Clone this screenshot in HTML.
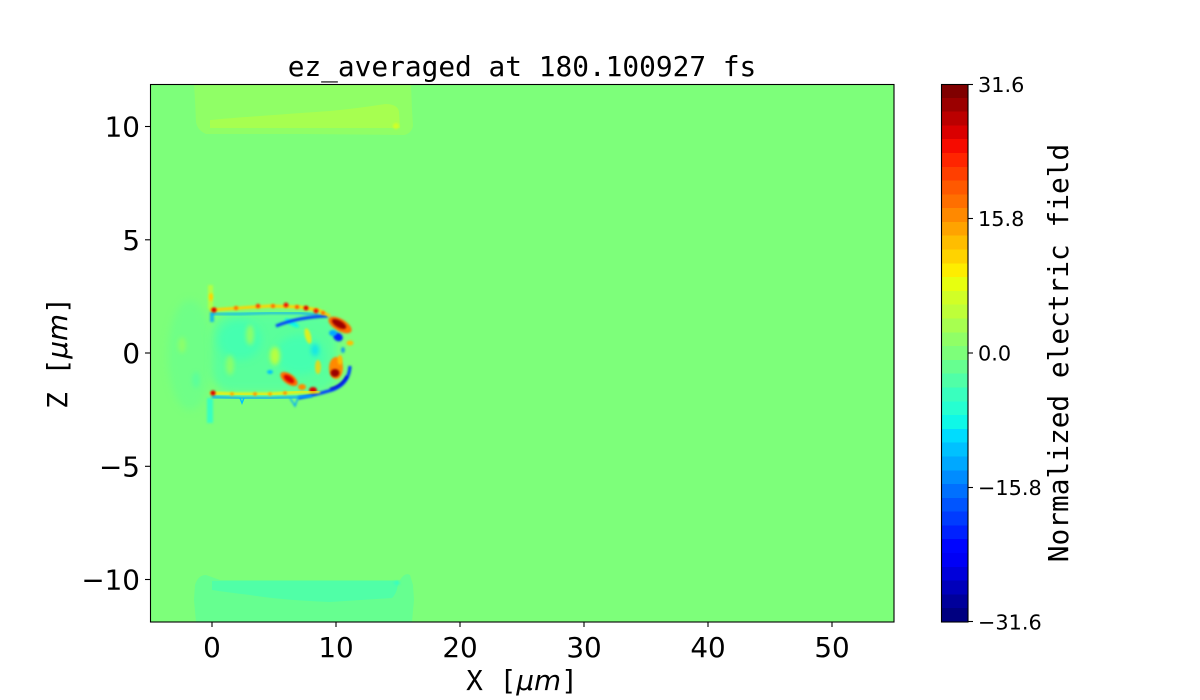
<!DOCTYPE html>
<html><head><meta charset="utf-8">
<style>
html,body{margin:0;padding:0;background:#fff;}
svg{display:block;}
.tk{font-family:"DejaVu Sans","Liberation Sans",sans-serif;font-size:27.8px;fill:#000;}
.ctk{font-family:"DejaVu Sans","Liberation Sans",sans-serif;font-size:20.8px;fill:#000;}
.mono{font-family:"DejaVu Sans Mono","Liberation Mono",monospace;font-size:27.8px;fill:#000;}
.it{font-family:"DejaVu Sans","Liberation Sans",sans-serif;font-style:italic;}
</style></head>
<body>
<svg width="1200" height="700" viewBox="0 0 1200 700" xmlns="http://www.w3.org/2000/svg">
<defs>
  <clipPath id="ax"><rect x="150" y="84" width="744" height="538"/></clipPath>
  <filter id="b1" x="-50%" y="-50%" width="200%" height="200%"><feGaussianBlur stdDeviation="1"/></filter>
  <filter id="b2" x="-50%" y="-50%" width="200%" height="200%"><feGaussianBlur stdDeviation="2"/></filter>
  <filter id="b4" x="-50%" y="-50%" width="200%" height="200%"><feGaussianBlur stdDeviation="4"/></filter>
</defs>

<!-- title -->
<text class="mono" x="522" y="76" text-anchor="middle">ez_averaged at 180.100927 fs</text>

<!-- main field -->
<g clip-path="url(#ax)">
  <rect x="150" y="84" width="744" height="538" fill="rgb(125,255,122)"/>
  <!-- top band -->
  <path d="M194,84 L411,84 L412,110 L413,126 Q411,134 404,135 L300,134 L206,134 Q197,130 196,122 L195,100 Z" fill="rgb(144,255,102)"/>
  <path d="M210,128 L210,120 Q230,118 260,116 Q300,113 330,111 Q360,108 385,104 Q398,104 399,112 L400,128 Z" fill="rgb(167,255,80)"/>
  <ellipse cx="396" cy="126" rx="3" ry="3" fill="rgb(209,255,38)" filter="url(#b1)"/>
  <!-- bottom band -->
  <path d="M196,622 L194,600 L195,585 Q198,575 206,575 L220,580 L400,580 Q405,572 410,575 L413,585 L414,600 L412,622 Z" fill="rgb(102,255,144)"/>
  <path d="M212,581 L398,581 Q398,592 392,598 L330,602 Q280,600 250,595 Q225,592 212,590 Z" fill="rgb(80,255,167)"/>
  <ellipse cx="397" cy="583" rx="3" ry="2" fill="rgb(57,255,190)" filter="url(#b1)"/>

  <!-- central structure -->
  <g>
    <!-- faint left haze -->
    <ellipse cx="190" cy="355" rx="22" ry="55" fill="rgb(102,255,144)" opacity="0.6" filter="url(#b4)"/>
    <ellipse cx="182" cy="345" rx="4" ry="8" fill="rgb(167,255,80)" opacity="0.5" filter="url(#b2)"/>
    <ellipse cx="196" cy="380" rx="4" ry="8" fill="rgb(80,255,167)" opacity="0.6" filter="url(#b2)"/>
    <!-- interior -->
    <rect x="212" y="314" width="125" height="78" rx="20" fill="rgb(80,255,167)" opacity="0.75" filter="url(#b4)"/>
    <ellipse cx="240" cy="340" rx="22" ry="20" fill="rgb(57,255,190)" opacity="0.6" filter="url(#b4)"/>
    <ellipse cx="300" cy="355" rx="25" ry="20" fill="rgb(57,255,190)" opacity="0.6" filter="url(#b4)"/>
    <ellipse cx="275" cy="356" rx="5" ry="9" fill="rgb(209,255,38)" opacity="0.8" filter="url(#b2)"/>
    <ellipse cx="250" cy="335" rx="4" ry="10" fill="rgb(190,255,57)" opacity="0.6" filter="url(#b2)"/>
    <ellipse cx="230" cy="365" rx="4" ry="10" fill="rgb(190,255,57)" opacity="0.5" filter="url(#b2)"/>
    <ellipse cx="308" cy="336" rx="3" ry="8" fill="rgb(255,237,0)" opacity="0.8" filter="url(#b1)" transform="rotate(-15 308 336)"/>
    <ellipse cx="292" cy="323" rx="8" ry="2.5" fill="rgb(15,248,231)" filter="url(#b1)" transform="rotate(30 292 323)"/>
    <ellipse cx="270" cy="372" rx="3" ry="2" fill="rgb(0,193,255)" filter="url(#b1)"/>
    <ellipse cx="318" cy="367" rx="3" ry="7" fill="rgb(255,211,0)" opacity="0.8" filter="url(#b1)"/>
    <ellipse cx="315" cy="350" rx="4" ry="6" fill="rgb(0,220,254)" opacity="0.7" filter="url(#b2)"/>
    <!-- left vertical -->
    <rect x="208" y="285" width="5" height="24" fill="rgb(190,255,57)" opacity="0.8" filter="url(#b1)"/>
    <ellipse cx="211" cy="297" rx="2" ry="4" fill="rgb(255,211,0)" filter="url(#b1)"/>
    <rect x="207" y="398" width="6" height="25" fill="rgb(38,255,209)" opacity="0.8" filter="url(#b1)"/>
    <rect x="210" y="312" width="4" height="10" fill="rgb(0,168,255)" opacity="0.8" filter="url(#b1)"/>
    <!-- top line -->
    <polyline points="212,314 240,314 270,313 300,313 318,315" fill="none" stroke="rgb(0,168,255)" stroke-width="2.2" opacity="0.8" filter="url(#b1)"/>
    <path d="M276,326 Q298,317 328,316" fill="none" stroke="rgb(0,60,255)" stroke-width="3" filter="url(#b1)"/>
    <polyline points="210,310 240,308 270,306 300,307 318,310 330,316" fill="none" stroke="rgb(255,211,0)" stroke-width="3" filter="url(#b1)"/>
    <circle cx="214" cy="310" r="2.6" fill="rgb(218,0,0)" filter="url(#b1)"/>
    <circle cx="236" cy="308" r="2" fill="rgb(255,111,0)" filter="url(#b1)"/>
    <circle cx="258" cy="306" r="2.2" fill="rgb(255,63,0)" filter="url(#b1)"/>
    <circle cx="273" cy="306" r="2" fill="rgb(255,111,0)" filter="url(#b1)"/>
    <circle cx="286" cy="305" r="2.4" fill="rgb(246,11,0)" filter="url(#b1)"/>
    <circle cx="297" cy="307" r="2" fill="rgb(255,89,0)" filter="url(#b1)"/>
    <circle cx="306" cy="308" r="2.4" fill="rgb(218,0,0)" filter="url(#b1)"/>
    <circle cx="316" cy="311" r="2.4" fill="rgb(246,11,0)" filter="url(#b1)"/>
    <circle cx="323" cy="313" r="2" fill="rgb(255,111,0)" filter="url(#b1)"/>
    <!-- top right red blob -->
    <ellipse cx="340" cy="325" rx="13" ry="6" fill="rgb(255,111,0)" filter="url(#b1)" transform="rotate(30 340 325)"/>
    <ellipse cx="339" cy="324" rx="8" ry="3.5" fill="rgb(155,0,0)" filter="url(#b1)" transform="rotate(30 339 324)"/>
    <ellipse cx="338" cy="337" rx="5" ry="4" fill="rgb(0,33,255)" filter="url(#b1)" transform="rotate(30 338 337)"/>
    <ellipse cx="333" cy="333" rx="4" ry="3" fill="rgb(0,168,255)" filter="url(#b1)"/>
    <ellipse cx="350" cy="343" rx="3.5" ry="2.5" fill="rgb(255,189,0)" filter="url(#b1)"/>
    <ellipse cx="343" cy="350" rx="2" ry="3" fill="rgb(0,140,255)" opacity="0.8" filter="url(#b1)"/>
    <!-- right lower red blob -->
    <ellipse cx="336" cy="368" rx="7" ry="11" fill="rgb(255,137,0)" filter="url(#b1)"/>
    <ellipse cx="340" cy="360" rx="2.5" ry="5" fill="rgb(255,189,0)" filter="url(#b1)"/>
    <ellipse cx="335" cy="373" rx="4.5" ry="4" fill="rgb(155,0,0)" filter="url(#b1)"/>
    <path d="M350,366 Q349,384 332,390 Q315,395 298,398" fill="none" stroke="rgb(0,60,255)" stroke-width="3.2" filter="url(#b1)"/>
    <path d="M347,376 Q342,386 330,389" fill="none" stroke="rgb(0,0,218)" stroke-width="2" filter="url(#b1)"/>
    <!-- mid red blobs -->
    <ellipse cx="289" cy="379" rx="10" ry="5" fill="rgb(255,111,0)" filter="url(#b1)" transform="rotate(35 289 379)"/>
    <ellipse cx="289" cy="379" rx="6" ry="3" fill="rgb(218,0,0)" filter="url(#b1)" transform="rotate(35 289 379)"/>
    <ellipse cx="302" cy="387" rx="4" ry="3" fill="rgb(255,137,0)" filter="url(#b1)"/>
    <ellipse cx="313" cy="390" rx="4" ry="3" fill="rgb(218,0,0)" filter="url(#b1)"/>
    <!-- bottom line -->
    <polyline points="212,397 240,398 270,398 300,397 312,396" fill="none" stroke="rgb(0,168,255)" stroke-width="2.2" filter="url(#b1)"/>
    <polyline points="240,398 242,403 244,398 M254,398 256,404 258,398" fill="none" stroke="rgb(0,193,255)" stroke-width="1.5"/>
    <path d="M290,398 L295,406 L298,398" fill="none" stroke="rgb(0,168,255)" stroke-width="1.5" filter="url(#b1)"/>
    <polyline points="210,393 240,394 270,394 300,392 320,392" fill="none" stroke="rgb(255,237,0)" stroke-width="2.6" filter="url(#b1)"/>
    <circle cx="213" cy="393" r="2.6" fill="rgb(218,0,0)" filter="url(#b1)"/>
    <circle cx="232" cy="394" r="1.8" fill="rgb(255,163,0)" filter="url(#b1)"/>
    <circle cx="255" cy="394" r="1.8" fill="rgb(255,137,0)" filter="url(#b1)"/>
    <circle cx="270" cy="394" r="1.8" fill="rgb(255,163,0)" filter="url(#b1)"/>
    <circle cx="285" cy="393" r="1.8" fill="rgb(255,137,0)" filter="url(#b1)"/>
  </g>
</g>
<rect x="150.5" y="84.5" width="743.5" height="537.5" fill="none" stroke="#000" stroke-width="1.1"/>

<!-- y ticks -->
<g stroke="#000" stroke-width="1.1">
  <line x1="145" y1="126.5" x2="150" y2="126.5"/>
  <line x1="145" y1="239.8" x2="150" y2="239.8"/>
  <line x1="145" y1="353" x2="150" y2="353"/>
  <line x1="145" y1="466.3" x2="150" y2="466.3"/>
  <line x1="145" y1="579.5" x2="150" y2="579.5"/>
  <line x1="212" y1="622" x2="212" y2="627"/>
  <line x1="336" y1="622" x2="336" y2="627"/>
  <line x1="460" y1="622" x2="460" y2="627"/>
  <line x1="584" y1="622" x2="584" y2="627"/>
  <line x1="708" y1="622" x2="708" y2="627"/>
  <line x1="832" y1="622" x2="832" y2="627"/>
</g>
<g class="tk" text-anchor="end">
  <text x="140" y="136.6">10</text>
  <text x="140" y="249.9">5</text>
  <text x="140" y="363.1">0</text>
  <text x="140" y="476.4">−5</text>
  <text x="140" y="589.6">−10</text>
</g>
<g class="tk" text-anchor="middle">
  <text x="212" y="657">0</text>
  <text x="336" y="657">10</text>
  <text x="460" y="657">20</text>
  <text x="584" y="657">30</text>
  <text x="708" y="657">40</text>
  <text x="832" y="657">50</text>
</g>
<text class="mono" x="522" y="690" text-anchor="middle">X [<tspan class="it">μm</tspan>]</text>
<text class="mono" transform="translate(67,353) rotate(-90)" text-anchor="middle">Z [<tspan class="it">μm</tspan>]</text>

<!-- colorbar -->
<g shape-rendering="crispEdges">
<rect x="941" y="84.00" width="27" height="14.3" fill="rgb(128,0,0)"/>
<rect x="941" y="97.79" width="27" height="14.3" fill="rgb(155,0,0)"/>
<rect x="941" y="111.59" width="27" height="14.3" fill="rgb(187,0,0)"/>
<rect x="941" y="125.38" width="27" height="14.3" fill="rgb(218,0,0)"/>
<rect x="941" y="139.18" width="27" height="14.3" fill="rgb(246,11,0)"/>
<rect x="941" y="152.97" width="27" height="14.3" fill="rgb(255,37,0)"/>
<rect x="941" y="166.77" width="27" height="14.3" fill="rgb(255,63,0)"/>
<rect x="941" y="180.56" width="27" height="14.3" fill="rgb(255,89,0)"/>
<rect x="941" y="194.36" width="27" height="14.3" fill="rgb(255,111,0)"/>
<rect x="941" y="208.15" width="27" height="14.3" fill="rgb(255,137,0)"/>
<rect x="941" y="221.95" width="27" height="14.3" fill="rgb(255,163,0)"/>
<rect x="941" y="235.74" width="27" height="14.3" fill="rgb(255,189,0)"/>
<rect x="941" y="249.54" width="27" height="14.3" fill="rgb(255,211,0)"/>
<rect x="941" y="263.33" width="27" height="14.3" fill="rgb(254,237,0)"/>
<rect x="941" y="277.13" width="27" height="14.3" fill="rgb(231,255,15)"/>
<rect x="941" y="290.92" width="27" height="14.3" fill="rgb(209,255,38)"/>
<rect x="941" y="304.72" width="27" height="14.3" fill="rgb(190,255,57)"/>
<rect x="941" y="318.51" width="27" height="14.3" fill="rgb(167,255,80)"/>
<rect x="941" y="332.31" width="27" height="14.3" fill="rgb(144,255,102)"/>
<rect x="941" y="346.10" width="27" height="14.3" fill="rgb(125,255,122)"/>
<rect x="941" y="359.90" width="27" height="14.3" fill="rgb(102,255,144)"/>
<rect x="941" y="373.69" width="27" height="14.3" fill="rgb(80,255,167)"/>
<rect x="941" y="387.49" width="27" height="14.3" fill="rgb(57,255,190)"/>
<rect x="941" y="401.28" width="27" height="14.3" fill="rgb(38,255,209)"/>
<rect x="941" y="415.08" width="27" height="14.3" fill="rgb(15,248,231)"/>
<rect x="941" y="428.87" width="27" height="14.3" fill="rgb(0,220,254)"/>
<rect x="941" y="442.67" width="27" height="14.3" fill="rgb(0,193,255)"/>
<rect x="941" y="456.46" width="27" height="14.3" fill="rgb(0,168,255)"/>
<rect x="941" y="470.26" width="27" height="14.3" fill="rgb(0,140,255)"/>
<rect x="941" y="484.05" width="27" height="14.3" fill="rgb(0,112,255)"/>
<rect x="941" y="497.85" width="27" height="14.3" fill="rgb(0,85,255)"/>
<rect x="941" y="511.64" width="27" height="14.3" fill="rgb(0,60,255)"/>
<rect x="941" y="525.44" width="27" height="14.3" fill="rgb(0,33,255)"/>
<rect x="941" y="539.23" width="27" height="14.3" fill="rgb(0,5,255)"/>
<rect x="941" y="553.03" width="27" height="14.3" fill="rgb(0,0,246)"/>
<rect x="941" y="566.82" width="27" height="14.3" fill="rgb(0,0,218)"/>
<rect x="941" y="580.62" width="27" height="14.3" fill="rgb(0,0,187)"/>
<rect x="941" y="594.41" width="27" height="14.3" fill="rgb(0,0,155)"/>
<rect x="941" y="608.21" width="27" height="13.79" fill="rgb(0,0,128)"/>
</g>
<rect x="941.5" y="84.5" width="26.5" height="537.5" fill="none" stroke="#000" stroke-width="1.1"/>
<g stroke="#000" stroke-width="1.1">
  <line x1="968" y1="84.5" x2="973" y2="84.5"/>
  <line x1="968" y1="218.5" x2="973" y2="218.5"/>
  <line x1="968" y1="353" x2="973" y2="353"/>
  <line x1="968" y1="487.5" x2="973" y2="487.5"/>
  <line x1="968" y1="621.5" x2="973" y2="621.5"/>
</g>
<g class="ctk">
  <text x="978" y="92">31.6</text>
  <text x="978" y="226.1">15.8</text>
  <text x="978" y="360.6">0.0</text>
  <text x="978" y="495.1">−15.8</text>
  <text x="978" y="629.6">−31.6</text>
</g>
<text class="mono" transform="translate(1068,353) rotate(-90)" text-anchor="middle">Normalized electric field</text>
</svg>
</body></html>
